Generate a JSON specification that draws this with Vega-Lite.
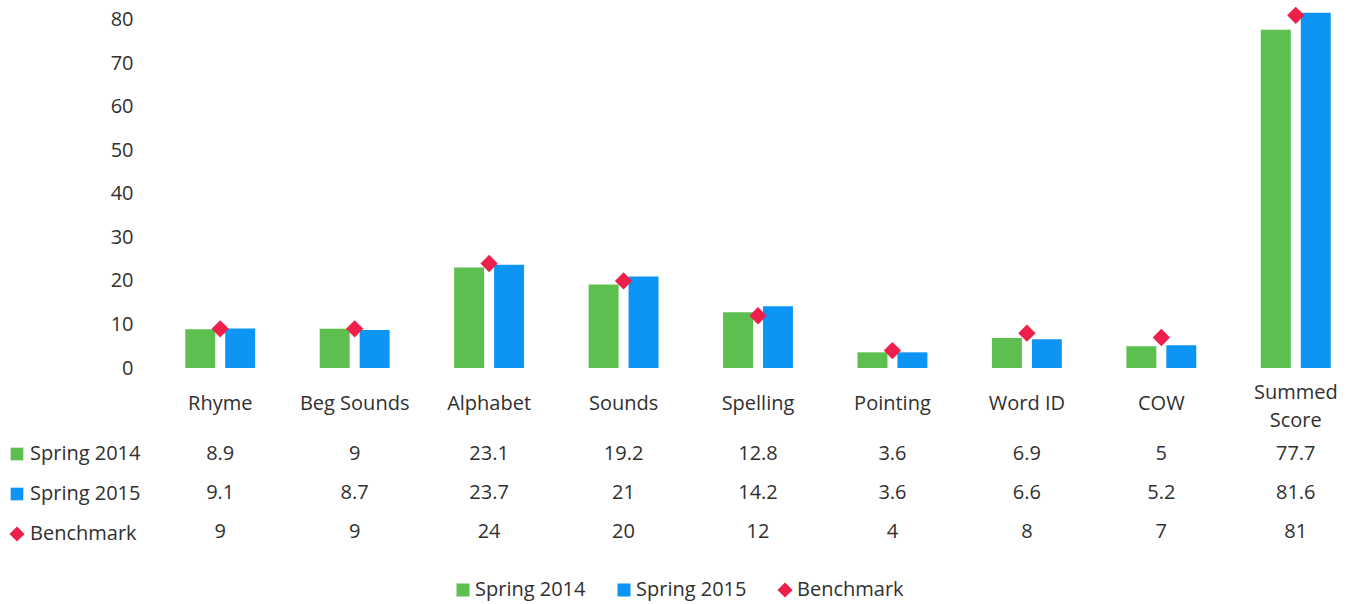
{
  "$schema": "https://vega.github.io/schema/vega-lite/v6.json",
  "background": "white",
  "padding": {"left": 7, "top": 6, "right": 0, "bottom": 12},
  "config": {
    "font": "Open Sans",
    "view": {"stroke": null},
    "axis": {"labelFont": "Open Sans", "labelColor": "#303030", "labelFontSize": 20}
  },
  "data": {
    "values": [
      {"category": "Rhyme", "series": "Spring 2014", "value": 8.9},
      {"category": "Rhyme", "series": "Spring 2015", "value": 9.1},
      {"category": "Rhyme", "series": "Benchmark", "value": 9},
      {"category": "Beg Sounds", "series": "Spring 2014", "value": 9},
      {"category": "Beg Sounds", "series": "Spring 2015", "value": 8.7},
      {"category": "Beg Sounds", "series": "Benchmark", "value": 9},
      {"category": "Alphabet", "series": "Spring 2014", "value": 23.1},
      {"category": "Alphabet", "series": "Spring 2015", "value": 23.7},
      {"category": "Alphabet", "series": "Benchmark", "value": 24},
      {"category": "Sounds", "series": "Spring 2014", "value": 19.2},
      {"category": "Sounds", "series": "Spring 2015", "value": 21},
      {"category": "Sounds", "series": "Benchmark", "value": 20},
      {"category": "Spelling", "series": "Spring 2014", "value": 12.8},
      {"category": "Spelling", "series": "Spring 2015", "value": 14.2},
      {"category": "Spelling", "series": "Benchmark", "value": 12},
      {"category": "Pointing", "series": "Spring 2014", "value": 3.6},
      {"category": "Pointing", "series": "Spring 2015", "value": 3.6},
      {"category": "Pointing", "series": "Benchmark", "value": 4},
      {"category": "Word ID", "series": "Spring 2014", "value": 6.9},
      {"category": "Word ID", "series": "Spring 2015", "value": 6.6},
      {"category": "Word ID", "series": "Benchmark", "value": 8},
      {"category": "COW", "series": "Spring 2014", "value": 5},
      {"category": "COW", "series": "Spring 2015", "value": 5.2},
      {"category": "COW", "series": "Benchmark", "value": 7},
      {"category": "Summed Score", "series": "Spring 2014", "value": 77.7},
      {"category": "Summed Score", "series": "Spring 2015", "value": 81.6},
      {"category": "Summed Score", "series": "Benchmark", "value": 81}
    ]
  },
  "vconcat": [
    {
      "width": 1210,
      "height": 357,
      "encoding": {
        "x": {
          "field": "category", "type": "nominal", "sort": null,
          "scale": {"paddingInner": 0.48, "paddingOuter": 0.24},
          "axis": {"title": null, "labelAngle": 0, "domain": false, "ticks": false, "tickSize": 0,
                   "labelPadding": {"condition": {"test": "datum.value === 'Summed Score'", "value": 24}, "value": 35},
                   "labelBaseline": "middle",
                   "labelExpr": "datum.label == 'Summed Score' ? ['Summed', 'Score'] : datum.label", "labelLineHeight": 28}
        },
        "y": {
          "field": "value", "type": "quantitative",
          "scale": {"domain": [0, 82], "nice": false},
          "axis": {"title": null, "values": [0, 10, 20, 30, 40, 50, 60, 70, 80], "grid": false, "domain": false, "ticks": false, "tickSize": 0, "labelPadding": 20}
        },
        "color": {
          "field": "series", "type": "nominal",
          "scale": {"domain": ["Spring 2014", "Spring 2015", "Benchmark"], "range": ["#5cbf4f", "#0c95f4", "#ee1f4b"]},
          "legend": {
            "title": null, "orient": "none", "direction": "horizontal", "legendX": 300, "legendY": 569,
            "labelFontSize": 20, "labelColor": "#303030", "labelFont": "Open Sans", "columnPadding": 28, "labelOffset": 2,
            "symbolOpacity": 1,
            "encode": {"symbols": {"update": {
              "shape": {"signal": "datum.value === 'Benchmark' ? 'diamond' : 'square'"},
              "size": {"signal": "datum.value === 'Benchmark' ? 230 : 169"}
            }}}
          }
        }
      },
      "layer": [
        {
          "transform": [{"filter": "datum.series !== 'Benchmark'"}],
          "mark": {"type": "bar"},
          "encoding": {
            "xOffset": {"field": "series", "type": "nominal", "scale": {"domain": ["Spring 2014", "Spring 2015"], "paddingInner": 0.25, "paddingOuter": 0}}
          }
        },
        {
          "transform": [{"filter": "datum.series === 'Benchmark'"}],
          "mark": {"type": "point", "shape": "diamond", "filled": true, "size": 300, "opacity": 1}
        }
      ]
    },
    {
      "width": 1210,
      "height": 117,
      "encoding": {
        "x": {
          "field": "category", "type": "nominal", "sort": null,
          "scale": {"paddingInner": 0.48, "paddingOuter": 0.24},
          "axis": null
        },
        "y": {
          "field": "series", "type": "nominal", "sort": ["Spring 2014", "Spring 2015", "Benchmark"],
          "scale": {"domain": ["Spring 2014", "Spring 2015", "Benchmark"], "paddingInner": 0, "paddingOuter": 0},
          "axis": null
        }
      },
      "layer": [
        {
          "mark": {"type": "text", "fontSize": 20, "font": "Open Sans", "color": "#303030", "baseline": "middle"},
          "encoding": {"text": {"field": "value", "type": "nominal"}}
        },
        {
          "mark": {"type": "point", "opacity": 0, "filled": true},
          "encoding": {
            "color": {
              "field": "series", "type": "nominal",
              "scale": {"domain": ["Spring 2014", "Spring 2015", "Benchmark"], "range": ["#5cbf4f", "#0c95f4", "#ee1f4b"]},
              "legend": {
                "title": null, "orient": "none", "direction": "vertical", "legendX": -146, "legendY": 10,
                "labelFontSize": 20, "labelColor": "#303030", "labelFont": "Open Sans", "rowPadding": 20, "labelOffset": 3,
                "symbolOpacity": 1,
                "encode": {"symbols": {"update": {
                  "shape": {"signal": "datum.value === 'Benchmark' ? 'diamond' : 'square'"},
                  "size": {"signal": "datum.value === 'Benchmark' ? 230 : 160"},
                  "opacity": {"value": 1}
                }}}
              }
            }
          }
        }
      ]
    }
  ],
  "spacing": 66,
  "bounds": "flush",
  "resolve": {"legend": {"color": "independent"}}
}
